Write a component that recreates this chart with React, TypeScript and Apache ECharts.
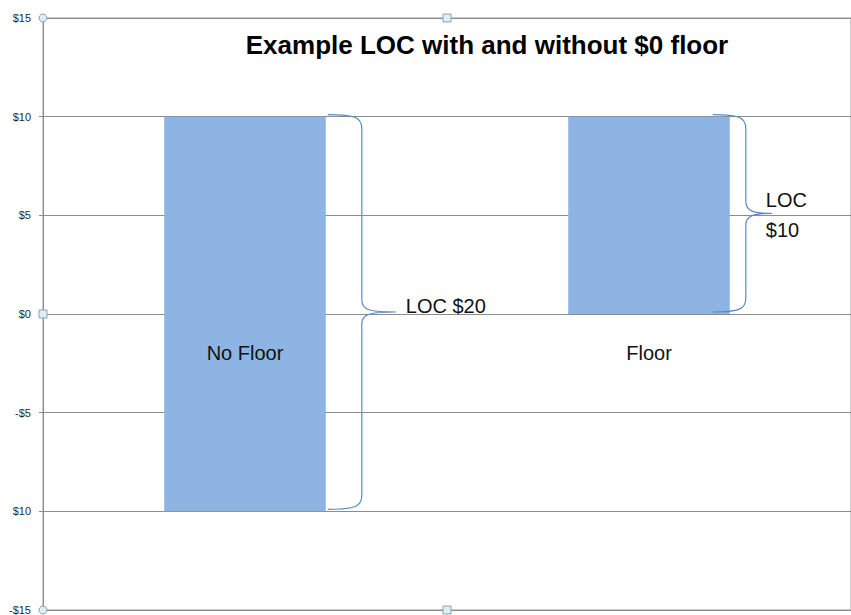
import React, { useEffect, useRef } from "react";
import * as echarts from "echarts";

const categories = ["No Floor", "Floor"];
const lowValues = [-10, 0];
const highValues = [10, 10];
const braceLabels = ["LOC $20", "LOC\n$10"];
const yTickValues = [-15, -10, -5, 0, 5, 10, 15];
const yTickLabels = ["-$15", "$10", "-$5", "$0", "$5", "$10", "$15"];
const titleText = "Example LOC with and without $0 floor";

const W = 851;
const H = 615;
const GRID = { left: 43, top: 18, right: 0, bottom: 5 };
const BAR_COLOR = "#8DB4E2";
const BRACE_COLOR = "#5B8AC6";
const GRID_COLOR = "#8C8C8C";
const FONT = "'Liberation Sans', 'DejaVu Sans', sans-serif";

// brace shape parameters per category: start offset, vertical offset, tip offset, label dx
const braceShapes = [
  { start: 2, vert: 36, tip: 70, labelDx: 10, labelDy: -6 },
  { start: -17, vert: 16, tip: 42, labelDx: -6, labelDy: 2 },
];

function bracePath(x0: number, yT: number, yB: number, s: { start: number; vert: number; tip: number }) {
  const yM = (yT + yB) / 2;
  const xs = x0 + s.start;
  const xv = x0 + s.vert;
  const xt = x0 + s.tip;
  const r = 12;
  return [
    `M${xs},${yT - 2}`,
    `C${xv - 6},${yT - 2} ${xv},${yT + 1} ${xv},${yT + r}`,
    `L${xv},${yM - r}`,
    `C${xv},${yM - 2} ${xv + 8},${yM} ${xt},${yM}`,
    `M${xt},${yM}`,
    `C${xv + 8},${yM} ${xv},${yM + 2} ${xv},${yM + r}`,
    `L${xv},${yB - r}`,
    `C${xv},${yB - 1} ${xv - 6},${yB + 2} ${xs},${yB + 2}`,
  ].join(" ");
}

export default function App() {
  const ref = useRef<HTMLDivElement>(null);
  useEffect(() => {
    if (!ref.current) return;
    const chart = echarts.init(ref.current, undefined, { renderer: "svg" });
    const gl = GRID.left;
    const gt = GRID.top;
    const gr = W - GRID.right;
    const gb = H - GRID.bottom;
    const gm = (gl + gr) / 2;
    const gym = (gt + gb) / 2;
    const handleStyle = { fill: "#DCEFF5", stroke: "#8AA3B0", lineWidth: 1 };
    const option: any = {
      animation: false,
      backgroundColor: "#ffffff",
      grid: {
        left: GRID.left,
        top: GRID.top,
        right: GRID.right,
        bottom: GRID.bottom,
        show: true,
        borderColor: "#9A9A9A",
        borderWidth: 1,
        containLabel: false,
        outerBoundsMode: "none",
      },
      xAxis: {
        type: "category",
        data: categories,
        axisLine: { show: false },
        axisTick: { show: false },
        axisLabel: { show: false },
      },
      yAxis: {
        type: "value",
        min: -15,
        max: 15,
        interval: 5,
        axisLine: { show: true, lineStyle: { color: "#8C8C8C", width: 1 } },
        axisTick: { show: true, length: 4, lineStyle: { color: "#8C8C8C" } },
        splitLine: { show: true, lineStyle: { color: GRID_COLOR, width: 1 } },
        axisLabel: {
          margin: 12,
          fontSize: 11,
          color: "#2a2a2a",
          fontFamily: FONT,
          formatter: (v: number) => {
            const i = yTickValues.indexOf(v);
            return i >= 0 ? yTickLabels[i] : "";
          },
        },
      },
      series: [
        {
          type: "bar",
          stack: "loc",
          barWidth: "40%",
          data: lowValues,
          itemStyle: { color: BAR_COLOR },
          silent: true,
        },
        {
          type: "bar",
          stack: "loc",
          barWidth: "40%",
          data: highValues,
          itemStyle: { color: BAR_COLOR },
          silent: true,
        },
        {
          // category labels placed just below the zero line
          type: "custom",
          silent: true,
          z: 6,
          data: categories.map((_, i) => [i, 0]),
          renderItem: (params: any, api: any) => {
            const p = api.coord([api.value(0), api.value(1)]);
            return {
              type: "text",
              x: p[0],
              y: p[1] + 39,
              style: {
                text: categories[params.dataIndex],
                fontSize: 20,
                fontFamily: FONT,
                fill: "#111",
                textAlign: "center",
                textVerticalAlign: "middle",
              },
            };
          },
        },
        {
          type: "custom",
          silent: true,
          z: 5,
          data: categories.map((_, i) => [i, lowValues[i], highValues[i]]),
          renderItem: (params: any, api: any) => {
            const idx = params.dataIndex;
            const cat = api.value(0);
            const low = api.value(1);
            const high = api.value(2);
            const band = api.size([1, 0])[0];
            const cx = api.coord([cat, 0])[0];
            const x0 = cx + band * 0.2;
            const yT = api.coord([cat, high])[1];
            const yB = api.coord([cat, low])[1];
            const s = braceShapes[idx];
            const yM = (yT + yB - 4) / 2;
            return {
              type: "group",
              children: [
                {
                  type: "path",
                  shape: { pathData: bracePath(x0, yT, yB - 4, s) },
                  style: { fill: "none", stroke: BRACE_COLOR, lineWidth: 1.2 },
                },
                {
                  type: "text",
                  x: x0 + s.tip + s.labelDx,
                  y: yM + s.labelDy,
                  style: {
                    text: braceLabels[idx],
                    fontSize: 20,
                    fontFamily: FONT,
                    fill: "#111",
                    textAlign: "left",
                    textVerticalAlign: "middle",
                    lineHeight: 30,
                  },
                },
              ],
            };
          },
        },
      ],
      graphic: [
        {
          type: "text",
          x: 487,
          y: 45,
          style: {
            text: titleText,
            fontSize: 26,
            fontWeight: "bold",
            fontFamily: FONT,
            fill: "#000",
            textAlign: "center",
            textVerticalAlign: "middle",
          },
        },
        { type: "circle", shape: { cx: gl, cy: gt, r: 4 }, style: handleStyle, z: 10 },
        { type: "circle", shape: { cx: gl, cy: gb, r: 4 }, style: handleStyle, z: 10 },
        { type: "rect", shape: { x: gl - 4, y: gym - 4, width: 8, height: 8 }, style: handleStyle, z: 10 },
        { type: "rect", shape: { x: gm - 4, y: gt - 4, width: 8, height: 8 }, style: handleStyle, z: 10 },
        { type: "rect", shape: { x: gm - 4, y: gb - 4, width: 8, height: 8 }, style: handleStyle, z: 10 },
      ],
    };
    chart.setOption(option);
    return () => chart.dispose();
  }, []);
  return (
    <div
      ref={ref}
      style={{ position: "fixed", left: 0, top: 0, width: W, height: H, background: "#fff" }}
    />
  );
}
